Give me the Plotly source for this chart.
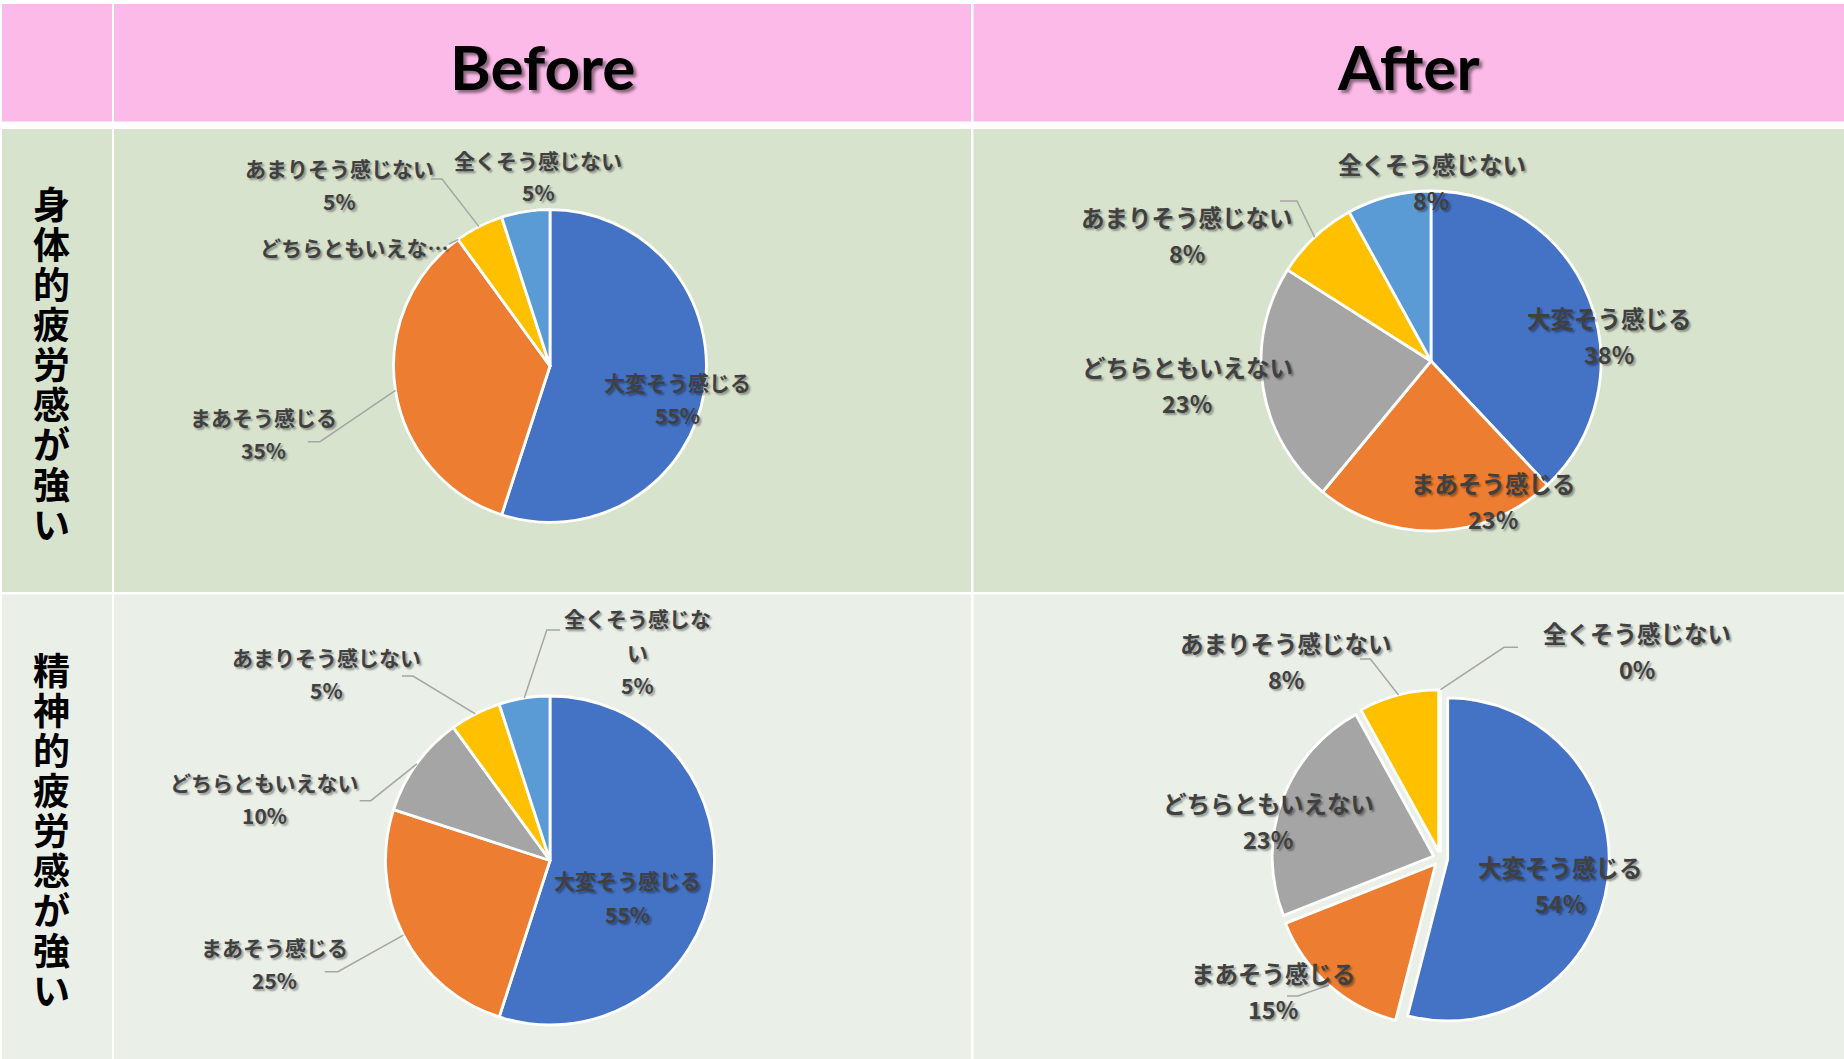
import math
import plotly.graph_objects as go

W, H = 1844, 1059

# ---------------- data ----------------
categories = ["大変そう感じる", "まあそう感じる", "どちらともいえない", "あまりそう感じない", "全くそう感じない"]
col_titles = ["Before", "After"]
row_titles = ["身体的疲労感が強い", "精神的疲労感が強い"]

physical_before = [55, 35, 0, 5, 5]
physical_after = [38, 23, 23, 8, 8]
mental_before = [55, 25, 10, 5, 5]
mental_after = [54, 15, 23, 8, 0]

# labels as displayed on each chart (truncation / wrapping as in the original)
labels_physical_before = ["大変そう感じる", "まあそう感じる", "どちらともいえな…", "あまりそう感じない", "全くそう感じない"]
labels_physical_after = categories
labels_mental_before = ["大変そう感じる", "まあそう感じる", "どちらともいえない", "あまりそう感じない", "全くそう感じな\nい"]
labels_mental_after = categories
show_pct_physical_before = [True, True, False, True, True]

# ---------------- style / layout ----------------
colors = ["#4472C4", "#ED7D31", "#A5A5A5", "#FFC000", "#5B9BD5"]
PINK = "#FCBAE8"
GREEN1 = "#D8E3CE"
GREEN2 = "#EAEFE7"
TXT = "#404040"
SHADOW = "2px 2px 2px rgba(0,0,0,0.35)"

col_x = [(2, 112), (114, 971), (973.5, 1844)]
row_y = [(4, 121.5), (129, 592), (594.5, 1059)]


def px(x):
    return x / W


def py(y):
    return 1 - y / H


pies = [
    dict(values=physical_before, labels=labels_physical_before, show=show_pct_physical_before,
         cx=550, cy=366, r=156.4, pull=0.0, fs=21, sp=32.5,
         pos=[(677, 382), (263, 417), (354, 247), (339, 168), (538, 160)],
         leaders={1: [(320, 441.7), (307.8, 441.7)], 2: [(449, 244)], 3: [(442, 179), (431, 179)]}),
    dict(values=physical_after, labels=labels_physical_after, show=[True] * 5,
         cx=1431, cy=361, r=170, pull=0.0, fs=23.5, sp=36,
         pos=[(1609, 318), (1493, 483), (1187, 367), (1187, 217), (1431.5, 164)],
         leaders={3: [(1297, 201), (1280, 201)]}),
    dict(values=mental_before, labels=labels_mental_before, show=[True] * 5,
         cx=550, cy=860.5, r=164.5, pull=0.0, fs=21, sp=33.5,
         pos=[(627, 880), (274.5, 946.7), (264.5, 781.7), (326.5, 656.7), (637, 618.3)],
         leaders={1: [(337.9, 971.7), (324.8, 971.7)], 2: [(370.8, 800.7), (359.7, 800.7)],
                  3: [(413, 676), (402, 676)], 4: [(546.8, 630), (560, 630)]}),
    dict(values=mental_after, labels=labels_mental_after, show=[True] * 5,
         cx=1440.5, cy=858.5, r=161.5, pull=0.045, fs=23.5, sp=36,
         pos=[(1560, 867), (1273, 973.3), (1268, 803.3), (1286, 643.3), (1637, 632.7)],
         leaders={1: [(1298, 996), (1287, 996)], 3: [(1370.4, 659), (1360, 659)],
                  4: [(1504, 647.3), (1518, 647.3)]}),
]

fig = go.Figure()
shapes = []
annotations = []

# table cells
cell_fill = [PINK, GREEN1, GREEN2]
for ri, (y0, y1) in enumerate(row_y):
    for (x0, x1) in col_x:
        shapes.append(dict(type="rect", xref="paper", yref="paper", x0=px(x0), x1=px(x1),
                           y0=py(y1), y1=py(y0), fillcolor=cell_fill[ri], line=dict(width=0),
                           layer="below"))

# column titles
for ci, t in enumerate(col_titles):
    x0, x1 = col_x[ci + 1]
    annotations.append(dict(text=t, x=px((x0 + x1) / 2), y=py(66), xref="paper", yref="paper",
                            showarrow=False, xanchor="center", yanchor="middle",
                            font=dict(family="Lato", size=62, color="#000000", weight="bold",
                                      shadow="3px 3px 3px rgba(0,0,0,0.45)")))

# row titles (vertical text: one character per line; line pitch = 1.3 * base font size)
PITCH = 40
for ri, t in enumerate(row_titles):
    y0, y1 = row_y[ri + 1]
    yc = (y0 + y1) / 2 + 2
    txt = "<br>".join(f"<span style='font-size:37px'>{ch}</span>" for ch in t)
    annotations.append(dict(text=txt, x=px(51), y=py(yc),
                            xref="paper", yref="paper", showarrow=False,
                            xanchor="center", yanchor="middle", align="center",
                            font=dict(family="Noto Sans CJK JP", size=PITCH / 1.3, color="#000000",
                                      weight="bold")))

# pies
for p in pies:
    vals = p["values"]
    tot = float(sum(vals))
    half = p["r"] * (1 + p["pull"])
    fig.add_trace(go.Pie(
        values=vals, labels=categories, sort=False, direction="clockwise", rotation=0,
        marker=dict(colors=colors, line=dict(color="#FFFFFF", width=2.8)),
        pull=[p["pull"]] * len(vals), textinfo="none", hoverinfo="label+percent",
        showlegend=False,
        domain=dict(x=[px(p["cx"] - half), px(p["cx"] + half)],
                    y=[py(p["cy"] + half), py(p["cy"] - half)]),
    ))

    cum = 0.0
    for i, v in enumerate(vals):
        mid = (cum + v / 2) / tot * 2 * math.pi
        cum += v
        # text
        lx, ly = p["pos"][i]
        lines = p["labels"][i].split("\n")
        if p["show"][i]:
            lines = lines + [f"{v}%"]
        for k, line in enumerate(lines):
            annotations.append(dict(text=line, x=px(lx), y=py(ly + k * p["sp"]),
                                    xref="paper", yref="paper", showarrow=False,
                                    xanchor="center", yanchor="middle",
                                    font=dict(family="Noto Sans CJK JP", size=p["fs"], color=TXT,
                                              weight="bold", shadow=SHADOW)))
        # leader line from slice edge (at mid-angle) to the label
        if i in p["leaders"]:
            rr = p["r"] * (1 + p["pull"])
            ex = p["cx"] + rr * math.sin(mid)
            ey = p["cy"] - rr * math.cos(mid)
            pts = [(ex, ey)] + p["leaders"][i]
            path = "M " + " L ".join(f"{px(a):.6f},{py(b):.6f}" for a, b in pts)
            shapes.append(dict(type="path", xref="paper", yref="paper", path=path,
                               line=dict(color="#A6A6A6", width=1.5), layer="above"))

fig.update_layout(
    width=W, height=H, margin=dict(l=0, r=0, t=0, b=0),
    paper_bgcolor="#FFFFFF", plot_bgcolor="#FFFFFF",
    shapes=shapes, annotations=annotations, showlegend=False,
)

fig.write_html(
    "out.html",
    config={"displayModeBar": False},
    post_script="document.body.style.margin='0';document.body.style.overflow='hidden';",
)
